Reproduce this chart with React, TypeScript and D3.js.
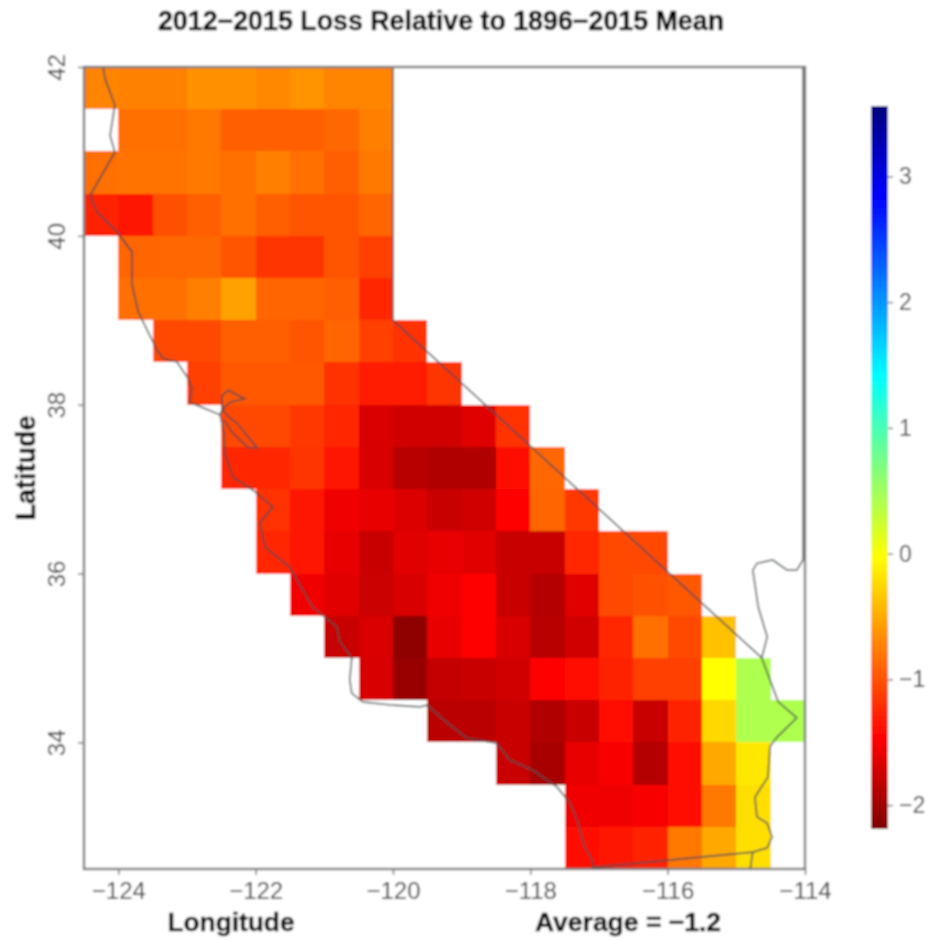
import React, { useRef, useEffect } from "react";
import * as d3 from "d3";

const titleText = "2012\u22122015 Loss Relative to 1896\u22122015 Mean";
const averageText = "Average = \u22121.2";

const lonTicks = [-124, -122, -120, -118, -116, -114];
const latTicks = [34, 36, 38, 40, 42];
const barTicks = [-2, -1, 0, 1, 2, 3];

// jet colours and the values they sit at on the colour bar
const jetColors = ["#7f0000", "#ff0000", "#ff7f00", "#ffff00", "#7fff7f", "#00ffff", "#007fff", "#0000ff", "#00007f"];
const jetValues = [-2.19, -1.47, -0.75, -0.03, 0.69, 1.41, 2.13, 2.85, 3.56];

// half degree cells, north to south. rowStart = first filled column from -124.5
const cellSize = 0.5;
const rowStart = [0, 1, 0, 0, 1, 1, 2, 3, 4, 4, 5, 5, 6, 7, 8, 10, 12, 14, 14];
const rowValues = [
  [-0.72, -0.74, -0.74, -0.65, -0.65, -0.7, -0.64, -0.72, -0.72],
  [-0.84, -0.84, -0.79, -0.93, -0.93, -0.93, -0.88, -0.75],
  [-0.84, -0.82, -0.82, -0.79, -0.84, -0.75, -0.84, -0.93, -0.79],
  [-1.29, -1.33, -1.02, -0.93, -0.84, -0.93, -0.99, -0.99, -0.9],
  [-0.9, -0.88, -0.88, -0.99, -1.17, -1.17, -0.99, -1.11],
  [-0.84, -0.84, -0.75, -0.56, -0.9, -0.9, -0.93, -1.26],
  [-1.06, -1.06, -0.93, -0.93, -0.99, -0.9, -1.11, -1.2],
  [-1.11, -0.97, -0.97, -0.97, -1.2, -1.31, -1.31, -1.17],
  [-1.06, -1.06, -1.15, -1.25, -1.69, -1.73, -1.73, -1.64, -1.2],
  [-1.25, -1.25, -1.17, -1.35, -1.69, -1.87, -1.91, -1.91, -1.41, -0.88],
  [-1.2, -1.33, -1.55, -1.6, -1.66, -1.78, -1.73, -1.47, -0.9, -1.15],
  [-1.25, -1.33, -1.6, -1.78, -1.64, -1.6, -1.64, -1.78, -1.78, -1.25, -1.05, -1.05],
  [-1.55, -1.64, -1.76, -1.69, -1.55, -1.47, -1.78, -1.89, -1.64, -1.06, -1.01, -0.97],
  [-1.78, -1.69, -2.1, -1.6, -1.47, -1.69, -1.87, -1.73, -1.26, -0.84, -1.06, -0.38],
  [-1.69, -2.05, -1.8, -1.78, -1.73, -1.47, -1.41, -1.29, -1.11, -1.11, -0.03, 0.42],
  [-1.85, -1.85, -1.78, -1.91, -1.78, -1.42, -1.78, -1.29, -0.25, 0.42, 0.42],
  [-1.78, -1.96, -1.6, -1.51, -1.89, -1.41, -0.52, -0.16],
  [-1.55, -1.55, -1.51, -1.42, -0.79, -0.21],
  [-1.38, -1.33, -1.29, -0.79, -0.52, -0.21],
];

// outlines, lon/lat
const coastLine = [
  [-124.22, 41.99], [-124.19, 41.85], [-124.05, 41.55], [-124.12, 41.19], [-124.05, 40.99],
  [-124.41, 40.48], [-124.31, 40.28], [-124.02, 40.05], [-123.8, 39.81], [-123.8, 39.42],
  [-123.71, 39.1], [-123.44, 38.65], [-123.35, 38.55], [-123.15, 38.51], [-122.99, 38.32],
  [-122.93, 38.2], [-122.96, 38.03], [-122.52, 37.88], [-122.46, 37.66], [-122.45, 37.43],
  [-122.33, 37.14], [-122.04, 36.99], [-121.75, 36.79], [-121.94, 36.6], [-121.86, 36.31],
  [-121.5, 36.07], [-121.17, 35.6], [-120.82, 35.37], [-120.77, 35.19], [-120.6, 35.0],
  [-120.63, 34.74], [-120.6, 34.58], [-120.44, 34.48], [-120.0, 34.44], [-119.61, 34.42],
  [-119.5, 34.44], [-119.21, 34.23], [-118.92, 34.05], [-118.49, 33.99], [-118.3, 33.79],
  [-117.96, 33.67], [-117.61, 33.47], [-117.42, 33.28], [-117.32, 33.08], [-117.21, 32.76],
  [-117.1, 32.61], [-117.09, 32.52],
];
const bayLine = [
  [-122.52, 37.88], [-122.49, 37.94], [-122.37, 38.03], [-122.16, 38.07], [-122.4, 38.17],
  [-122.49, 38.11], [-122.49, 37.94], [-122.37, 37.84], [-122.27, 37.78], [-121.98, 37.49],
  [-122.11, 37.49], [-122.33, 37.66], [-122.46, 37.82],
];
const mexicoLine = [[-117.09, 32.52], [-114.76, 32.7], [-114.55, 32.75]];
const imperialLine = [[-114.8, 32.49], [-114.76, 32.7]];
const riverLine = [
  [-114.55, 32.75], [-114.48, 32.88], [-114.55, 33.04], [-114.7, 33.12], [-114.73, 33.35],
  [-114.54, 33.59], [-114.51, 33.95], [-114.41, 34.06], [-114.12, 34.29], [-114.39, 34.48],
  [-114.51, 34.74], [-114.63, 35.0], [-114.55, 35.25], [-114.68, 35.6], [-114.76, 36.04],
  [-114.7, 36.12], [-114.47, 36.16], [-114.26, 36.04], [-114.12, 36.04], [-114.03, 36.16],
  [-114.03, 42],
];
const nevadaLine = [[-120, 42], [-120, 39], [-114.63, 35]];

const App = () => {
  const svgRef = useRef<SVGSVGElement>(null);

  useEffect(() => {
    const svg = d3.select(svgRef.current);
    svg.selectAll("*").remove();

    const font = "'Liberation Sans', Arial, sans-serif";
    const gray = "#3a3a3a";

    const x = d3.scaleLinear().domain([-124.5, -114]).range([84, 805]);
    const y = d3.scaleLinear().domain([42, 32.5]).range([67, 869]);
    const color = d3.scaleLinear<string>().domain(jetValues).range(jetColors);
    const barY = d3.scaleLinear().domain([-2.19, 3.56]).range([829, 106]);

    // the reference is a soft, upscaled image
    const defs = svg.append("defs");
    defs
      .append("filter")
      .attr("id", "soft")
      .attr("filterUnits", "userSpaceOnUse")
      .attr("x", 0)
      .attr("y", 0)
      .attr("width", 935)
      .attr("height", 940)
      .append("feGaussianBlur")
      .attr("stdDeviation", 1);

    const grad = defs
      .append("linearGradient")
      .attr("id", "jet")
      .attr("x1", 0)
      .attr("x2", 0)
      .attr("y1", 1)
      .attr("y2", 0);
    grad
      .selectAll("stop")
      .data(jetValues)
      .enter()
      .append("stop")
      .attr("offset", (d) => (d - jetValues[0]) / (jetValues[8] - jetValues[0]))
      .attr("stop-color", (d) => color(d));

    const root = svg.append("g").attr("filter", "url(#soft)");
    root.append("rect").attr("width", 935).attr("height", 940).attr("fill", "#fff");

    // cells
    const cells = rowValues.flatMap((row, r) =>
      row.map((v, i) => ({
        lon: -124.5 + (rowStart[r] + i) * cellSize,
        lat: 42 - r * cellSize,
        v,
      }))
    );
    root
      .append("g")
      .attr("shape-rendering", "crispEdges")
      .selectAll("rect")
      .data(cells)
      .enter()
      .append("rect")
      .attr("x", (d) => x(d.lon))
      .attr("y", (d) => y(d.lat))
      .attr("width", (d) => x(d.lon + cellSize) - x(d.lon))
      .attr("height", (d) => y(d.lat - cellSize) - y(d.lat))
      .attr("fill", (d) => color(d.v));

    // state outlines
    const line = d3
      .line<number[]>()
      .x((d) => x(d[0]))
      .y((d) => y(d[1]));
    root
      .append("g")
      .selectAll("path")
      .data([coastLine, bayLine, mexicoLine, imperialLine, riverLine, nevadaLine])
      .enter()
      .append("path")
      .attr("d", (d) => line(d))
      .attr("fill", "none")
      .attr("stroke", "#43494e")
      .attr("stroke-opacity", 0.85)
      .attr("stroke-width", 1.7);

    // frame
    root
      .append("rect")
      .attr("x", 84)
      .attr("y", 67)
      .attr("width", 721)
      .attr("height", 802)
      .attr("fill", "none")
      .attr("stroke", "#777")
      .attr("stroke-width", 2.4);

    // axes
    const styleAxis = (g: any, size: number) => {
      g.select(".domain").remove();
      g.selectAll("line").attr("stroke", "#777").attr("stroke-width", 1.5);
      g.selectAll("text").attr("fill", gray).attr("font-family", font).attr("font-size", size);
    };
    root
      .append("g")
      .attr("transform", "translate(0,869)")
      .call(d3.axisBottom(x).tickValues(lonTicks).tickFormat(d3.format("d")).tickSize(6).tickPadding(7))
      .call(styleAxis, 24);
    const yAxis = root
      .append("g")
      .attr("transform", "translate(84,0)")
      .call(d3.axisLeft(y).tickValues(latTicks).tickFormat(d3.format("d")).tickSize(6).tickPadding(9))
      .call(styleAxis, 24);
    yAxis
      .selectAll(".tick text")
      .attr("text-anchor", "middle")
      .attr("dy", 0)
      .attr("x", -19)
      .attr("transform", "rotate(-90 -19 0)");

    // colour bar
    root
      .append("rect")
      .attr("x", 871)
      .attr("y", 106)
      .attr("width", 17)
      .attr("height", 723)
      .attr("fill", "url(#jet)");
    root
      .append("g")
      .attr("transform", "translate(888,0)")
      .call(d3.axisRight(barY).tickValues(barTicks).tickFormat(d3.format("d")).tickSize(5).tickPadding(6))
      .call(styleAxis, 23);

    // titles
    const label = (t: string, px: number, py: number, size: number, rotate = false) =>
      root
        .append("text")
        .attr("x", px)
        .attr("y", py)
        .attr("text-anchor", "middle")
        .attr("font-family", font)
        .attr("font-weight", "bold")
        .attr("font-size", size)
        .attr("fill", "#000")
        .attr("stroke", "#000")
        .attr("stroke-width", 0.4)
        .attr("transform", rotate ? `rotate(-90 ${px} ${py})` : null)
        .text(t);
    label(titleText, 441, 30, 26.8);
    label("Longitude", 231, 931, 26.3);
    label(averageText, 628, 931, 26.5);
    label("Latitude", 35, 468, 27, true);
  }, []);

  return (
    <svg
      ref={svgRef}
      width={935}
      height={940}
      style={{ position: "absolute", left: 0, top: 0 }}
    ></svg>
  );
};

export default App;
